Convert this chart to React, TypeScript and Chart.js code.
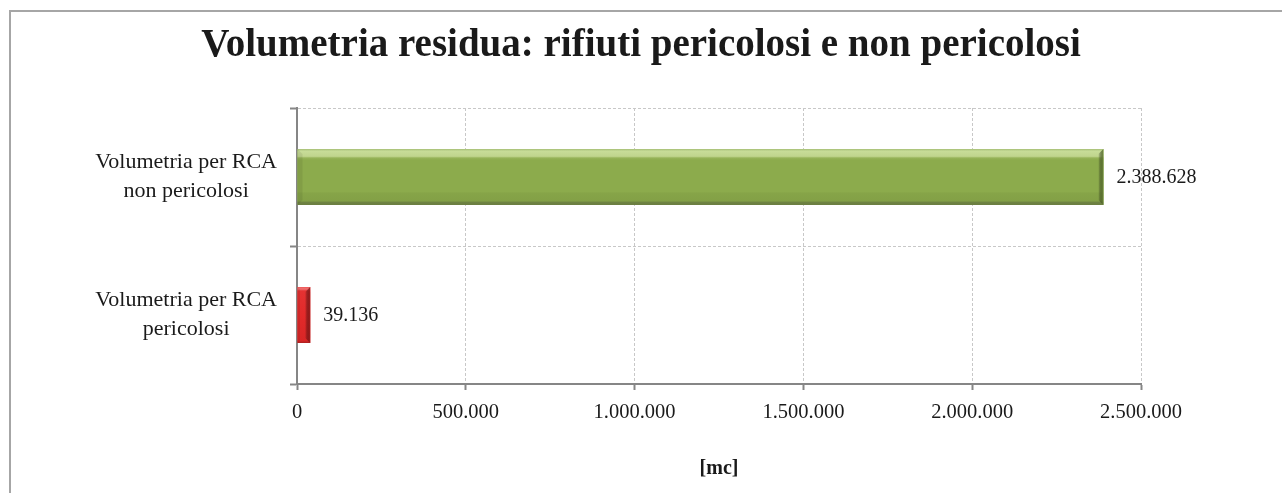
import { useEffect, useRef } from "react";
import { Chart, registerables } from "chart.js";

Chart.register(...registerables);

// ---- data ----
const chartTitle = "Volumetria residua: rifiuti pericolosi e non pericolosi";
const categories: string[][] = [
  ["Volumetria per RCA", "non pericolosi"],
  ["Volumetria per RCA", "pericolosi"],
];
const values: number[] = [2388628, 39136];
const xMin = 0;
const xMax = 2500000;
const xStep = 500000;
const xAxisTitle = "[mc]";

// ---- styles ----
const FONT = "'Liberation Serif', 'Times New Roman', serif";
const TEXT = "#1a1a1a";
const barBase = ["#8cab4c", "#e22a2a"];
const barStops: [number, string][][] = [
  [
    [0, "#a9c17a"],
    [0.04, "#c7dc98"],
    [0.13, "#c0d58d"],
    [0.16, "#96b358"],
    [0.2, "#8cab4c"],
    [0.76, "#8cab4c"],
    [0.79, "#86a448"],
    [0.93, "#83a046"],
    [0.95, "#6f8443"],
    [1, "#6a7c40"],
  ],
  [
    [0, "#ec5c5c"],
    [0.035, "#f07070"],
    [0.07, "#e43232"],
    [0.5, "#e22a2a"],
    [0.96, "#d82626"],
    [1, "#a81f1f"],
  ],
];
const barEdge = ["#6f8a3b", "#a51e1e"];

const fmt = (n: number) =>
  Math.round(n)
    .toString()
    .replace(/\B(?=(\d{3})+(?!\d))/g, ".");

const framePlugin = {
  id: "frame",
  beforeDraw(chart: any) {
    const { ctx, width, height } = chart;
    ctx.save();
    ctx.fillStyle = "#ffffff";
    ctx.fillRect(0, 0, width, height);
    ctx.strokeStyle = "#a6a6a6";
    ctx.lineWidth = 2;
    ctx.beginPath();
    ctx.moveTo(10, height + 5);
    ctx.lineTo(10, 11);
    ctx.lineTo(width + 5, 11);
    ctx.stroke();
    // title
    ctx.fillStyle = TEXT;
    ctx.font = `bold 39px ${FONT}`;
    ctx.textAlign = "center";
    ctx.textBaseline = "alphabetic";
    ctx.fillText(chartTitle, width / 2, 56);
    ctx.restore();
  },
};

const bevelPlugin = {
  id: "bevel",
  afterDatasetsDraw(chart: any) {
    const { ctx } = chart;
    const meta = chart.getDatasetMeta(0);
    meta.data.forEach((el: any, i: number) => {
      const p = el.getProps(["x", "y", "base", "height"], true);
      const left = Math.min(p.x, p.base);
      const right = Math.max(p.x, p.base);
      const top = p.y - p.height / 2;
      const bottom = p.y + p.height / 2;
      const w = right - left;
      const h = bottom - top;
      ctx.save();
      const g = ctx.createLinearGradient(0, top, 0, bottom);
      barStops[i].forEach(([o, c]) => g.addColorStop(o, c));
      ctx.fillStyle = g;
      ctx.fillRect(left, top, w, h);
      // right bevel edge
      const ew = Math.min(5, w * 0.4);
      const eg = ctx.createLinearGradient(right - ew, 0, right, 0);
      eg.addColorStop(0, "rgba(0,0,0,0.06)");
      eg.addColorStop(1, barEdge[i]);
      ctx.fillStyle = eg;
      ctx.beginPath();
      ctx.moveTo(right - ew, top + ew);
      ctx.lineTo(right, top);
      ctx.lineTo(right, bottom);
      ctx.lineTo(right - ew, bottom - ew);
      ctx.closePath();
      ctx.fill();
      // left bevel edge
      const lw = Math.min(5, w * 0.2);
      ctx.fillStyle = "rgba(0,0,0,0.07)";
      ctx.beginPath();
      ctx.moveTo(left, top);
      ctx.lineTo(left + lw, top + lw);
      ctx.lineTo(left + lw, bottom - lw);
      ctx.lineTo(left, bottom);
      ctx.closePath();
      ctx.fill();
      // value label
      ctx.fillStyle = TEXT;
      ctx.font = `20px ${FONT}`;
      ctx.textAlign = "left";
      ctx.textBaseline = "middle";
      ctx.fillText(fmt(values[i]), right + 13, p.y + 1);
      ctx.restore();
    });
  },
};

export default function App() {
  const ref = useRef<HTMLCanvasElement | null>(null);
  useEffect(() => {
    if (!ref.current) return;
    const chart = new Chart(ref.current, {
      type: "bar",
      data: {
        labels: categories,
        datasets: [
          {
            data: values,
            backgroundColor: barBase,
            borderWidth: 0,
            barPercentage: 0.405,
            categoryPercentage: 1,
          },
        ],
      },
      options: {
        indexAxis: "y",
        animation: false,
        responsive: false,
        devicePixelRatio: 1,
        layout: { padding: { top: 108, right: 141, left: 0, bottom: 0 } },
        plugins: {
          legend: { display: false },
          title: { display: false },
          tooltip: { enabled: false },
        },
        scales: {
          x: {
            type: "linear",
            min: xMin,
            max: xMax,
            ticks: {
              stepSize: xStep,
              color: TEXT,
              font: { family: FONT, size: 20.5 },
              padding: 10,
              callback: (v: any) => fmt(Number(v)),
            },
            grid: {
              color: "#c8c8c8",
              lineWidth: 1,
              tickLength: 6,
              tickColor: "#868686",
              tickWidth: 2,
              tickBorderDash: [],
            },
            border: { display: true, color: "#868686", width: 2, dash: [3, 2] },
            title: {
              display: true,
              text: xAxisTitle,
              color: TEXT,
              font: { family: FONT, size: 20, weight: "bold" },
              padding: { top: 0, bottom: 12 },
            },
            afterFit: (s: any) => {
              s.height = 109;
            },
          },
          y: {
            type: "category",
            ticks: {
              color: TEXT,
              font: { family: FONT, size: 22, lineHeight: 1.3 },
              crossAlign: "center",
              padding: 13,
            },
            grid: {
              offset: true,
              color: "#c8c8c8",
              lineWidth: 1,
              tickLength: 7,
              tickColor: "#868686",
              tickWidth: 2,
              tickBorderDash: [],
            },
            border: { display: true, color: "#868686", width: 2, dash: [3, 2] },
            afterFit: (s: any) => {
              s.width = 297;
            },
          },
        },
      },
      plugins: [framePlugin, bevelPlugin],
    } as any);
    return () => chart.destroy();
  }, []);
  return (
    <div style={{ position: "fixed", left: 0, top: 0, width: 1282, height: 493 }}>
      <canvas ref={ref} width={1282} height={493} style={{ display: "block" }} />
    </div>
  );
}
